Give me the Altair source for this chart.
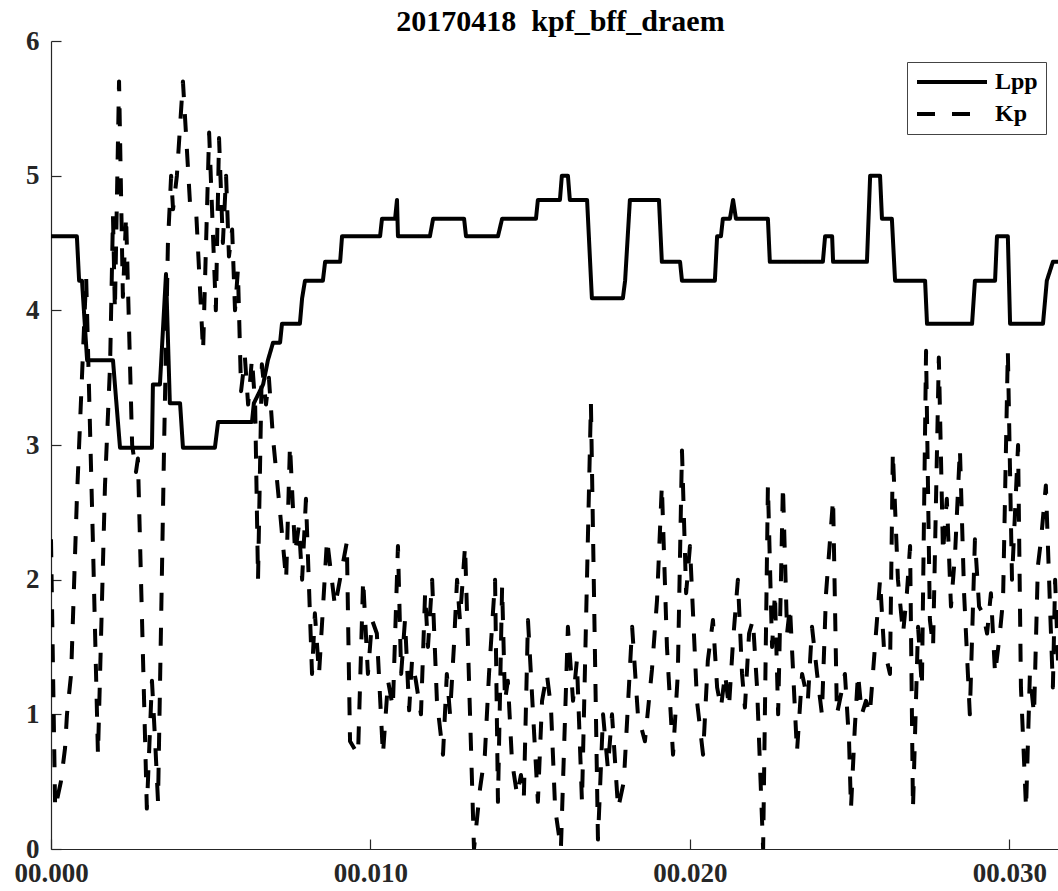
import altair as alt
import pandas as pd

# Time axis in thousandths (tick labels print as 00.xxx)
lpp_t = [0.00, 0.81, 0.88, 0.97, 1.13, 1.94, 2.00, 2.16, 3.16, 3.19, 3.41, 3.60, 3.72,
         4.04, 4.13, 5.13, 5.23, 6.29, 6.35, 6.64, 6.79, 6.95, 7.17, 7.23, 7.79, 7.86,
         7.95, 8.51, 8.58, 9.05, 9.11, 10.30, 10.36, 10.77, 10.83, 10.86, 11.86, 11.96,
         12.93, 12.99, 13.99, 14.12, 15.18, 15.24, 15.93, 15.99, 16.18, 16.24, 16.78,
         16.93, 17.90, 17.97, 18.12, 19.03, 19.12, 19.69, 19.75, 20.78, 20.85, 20.97,
         21.03, 21.25, 21.35, 21.44, 22.44, 22.50, 24.16, 24.23, 24.45, 24.48, 25.54,
         25.64, 25.95, 26.01, 26.32, 26.42, 27.36, 27.42, 28.83, 28.92, 29.55, 29.61,
         29.95, 30.02, 31.05, 31.17, 31.36, 31.58]
lpp_v = [4.55, 4.55, 4.22, 4.22, 3.63, 3.63, 3.45, 2.98, 2.98, 3.45, 3.45, 4.27, 3.31,
         3.31, 2.98, 2.98, 3.17, 3.17, 3.31, 3.45, 3.63, 3.76, 3.76, 3.90, 3.90, 4.09,
         4.22, 4.22, 4.36, 4.36, 4.55, 4.55, 4.68, 4.68, 4.82, 4.55, 4.55, 4.68,
         4.68, 4.55, 4.55, 4.68, 4.68, 4.82, 4.82, 5.00, 5.00, 4.82, 4.82,
         4.09, 4.09, 4.22, 4.82, 4.82, 4.36, 4.36, 4.22, 4.22, 4.55, 4.55,
         4.68, 4.68, 4.82, 4.68, 4.68, 4.36, 4.36, 4.55, 4.55, 4.36, 4.36,
         5.00, 5.00, 4.68, 4.68, 4.22, 4.22, 3.90, 3.90, 4.22, 4.22, 4.55,
         4.55, 3.90, 3.90, 4.22, 4.36, 4.36]

kp_t = [0.00, 0.13, 0.31, 0.44, 0.50, 0.63, 0.81, 1.10, 1.31, 1.47, 1.69, 1.85, 1.94,
        2.00, 2.13, 2.25, 2.35, 2.54, 2.66, 2.72, 3.00, 3.16, 3.26, 3.35, 3.54, 3.66,
        3.76, 3.82, 3.94, 4.13, 4.35, 4.54, 4.76, 4.95, 5.16, 5.26, 5.38, 5.48, 5.57,
        5.67, 5.76, 5.85, 5.95, 6.07, 6.17, 6.29, 6.39, 6.48, 6.60, 6.73, 6.82, 6.95,
        7.17, 7.36, 7.48, 7.64, 7.76, 7.86, 7.98, 8.17, 8.26, 8.39, 8.64, 8.89, 9.26,
        9.36, 9.61, 9.77, 9.92, 10.05, 10.20, 10.39, 10.55, 10.70, 10.86, 10.96, 11.08,
        11.21, 11.30, 11.42, 11.58, 11.71, 11.80, 11.93, 12.08, 12.27, 12.39, 12.49,
        12.61, 12.71, 12.80, 12.96, 13.24, 13.43, 13.58, 13.71, 13.90, 13.99, 14.12,
        14.21, 14.30, 14.43, 14.59, 14.71, 14.80, 14.93, 15.09, 15.24, 15.37, 15.52,
        15.65, 15.78, 15.96, 16.18, 16.34, 16.46, 16.62, 16.90, 17.12, 17.28, 17.43,
        17.56, 17.75, 17.93, 18.19, 18.37, 18.59, 18.81, 18.97, 19.12, 19.28, 19.47,
        19.62, 19.75, 19.88, 20.00, 20.22, 20.41, 20.56, 20.72, 20.85, 20.97, 21.10,
        21.22, 21.35, 21.50, 21.63, 21.72, 21.85, 21.97, 22.10, 22.29, 22.44, 22.57,
        22.66, 22.76, 22.91, 23.04, 23.13, 23.35, 23.51, 23.69, 23.82, 23.98, 24.13,
        24.26, 24.48, 24.60, 24.73, 24.85, 24.98, 25.04, 25.16, 25.26, 25.38, 25.51,
        25.63, 25.79, 25.95, 26.07, 26.26, 26.35, 26.51, 26.67, 26.79, 26.89, 26.98,
        27.14, 27.26, 27.39, 27.51, 27.61, 27.79, 27.92, 28.04, 28.17, 28.30, 28.45,
        28.58, 28.76, 28.92, 29.05, 29.17, 29.30, 29.42, 29.55, 29.70, 29.80, 29.95,
        30.08, 30.27, 30.36, 30.52, 30.64, 30.77, 30.89, 30.99, 31.14, 31.27, 31.36,
        31.43, 31.52]
kp_v = [2.30, 0.30, 0.50, 0.75, 1.00, 1.30, 2.60, 4.25, 2.30, 0.70, 2.70, 3.60, 4.70,
        4.00, 5.70, 4.10, 4.70, 3.00, 2.80, 2.90, 0.30, 1.25, 0.80, 0.35, 3.00, 4.50,
        5.00, 4.75, 5.00, 5.70, 4.80, 4.75, 3.70, 5.32, 4.00, 5.28, 4.50, 5.00, 4.40,
        4.60, 4.00, 4.30, 3.40, 3.65, 3.30, 3.64, 3.30, 2.00, 3.60, 3.30, 3.50, 3.05,
        2.50, 2.00, 3.00, 2.20, 2.40, 2.00, 2.60, 1.30, 1.75, 1.30, 2.30, 1.80, 2.28,
        0.80, 0.70, 2.00, 1.30, 1.70, 1.60, 0.70, 1.25, 1.05, 2.25, 1.30, 1.70,
        1.03, 1.40, 1.25, 1.00, 1.90, 1.50, 2.00, 1.10, 0.70, 1.30, 1.00,
        1.50, 2.00, 1.70, 2.25, 0.00, 0.45, 0.70, 1.30, 2.00, 0.35, 1.95,
        1.10, 1.25, 0.65, 0.40, 0.55, 0.38, 1.70, 1.00, 0.35, 1.10, 1.30,
        1.05, 0.30, 0.00, 1.65, 1.10, 1.40, 0.35, 3.31, 0.07, 1.00, 0.60,
        1.00, 0.30, 0.50, 1.65, 1.00, 0.80, 1.33, 1.85, 2.70, 1.50, 0.70,
        1.30, 2.96, 1.90, 2.25, 1.10, 0.70, 1.40, 1.70, 1.20, 1.05, 1.30,
        1.05, 1.55, 2.00, 1.30, 1.05, 1.60, 1.70, 1.20, 0.00, 2.70, 1.50,
        1.90, 1.00, 2.70, 1.60, 1.80, 0.72, 1.30, 1.10, 1.65, 1.30, 1.00,
        1.90, 2.60, 1.00, 1.15, 1.30, 0.80, 0.30, 0.90, 1.30, 1.00, 1.10,
        1.00, 1.50, 2.00, 1.50, 1.30, 2.95, 2.00, 1.60, 1.90, 2.25, 0.30,
        1.65, 1.20, 3.70, 1.70, 1.50, 3.65, 2.20, 2.60, 1.80, 2.20, 2.97,
        1.90, 1.00, 2.30, 1.80, 1.75, 1.60, 1.90, 1.30, 1.60, 1.85, 3.70,
        2.00, 3.00, 1.20, 0.30, 1.30, 1.00, 2.10, 2.30, 2.70, 1.80, 1.20,
        2.00, 1.40]

series_names = ["Lpp", "Kp"]
title_text = "20170418 \u00a0kpf_bff_draem"
x_ticks = [0, 10, 20, 30]
y_ticks = [0, 1, 2, 3, 4, 5, 6]

rows = []
for name, ts, vs in (("Lpp", lpp_t, lpp_v), ("Kp", kp_t, kp_v)):
    for i, (t, v) in enumerate(zip(ts, vs)):
        rows.append({"t": t, "v": v, "series": name, "i": i})
df = pd.DataFrame(rows)

FONT = "Liberation Serif"
INK = "#262626"
W, H = 1007, 808
x_scale = alt.Scale(domain=[0, 31.52], nice=False, zero=False)
y_scale = alt.Scale(domain=[0, 6], nice=False)

label_style = dict(labelFont=FONT, labelFontSize=27, labelFontWeight="bold",
                   labelColor=INK, grid=False, title=None)

lines = alt.Chart(df).mark_line(strokeWidth=4, color="black", clip=True,
                                strokeJoin="round").encode(
    x=alt.X("t:Q", scale=x_scale,
            axis=alt.Axis(values=x_ticks, labelExpr="'00.' + format(datum.value, '03d')",
                          ticks=False, domainColor=INK, domainWidth=1.2,
                          labelPadding=11, labelFlush=False, labelOverlap=False,
                          **label_style)),
    y=alt.Y("v:Q", scale=y_scale,
            axis=alt.Axis(values=y_ticks, ticks=False, domainColor=INK, domainWidth=1.2,
                          labelPadding=12, labelFlush=False, **label_style)),
    strokeDash=alt.StrokeDash(
        "series:N",
        scale=alt.Scale(domain=series_names, range=[[1, 0], [18, 17]]),
        legend=alt.Legend(title=None, orient="none", legendX=856, legendY=21,
                          symbolType="M-3.5,0H3.5", symbolSize=400,
                          symbolStrokeWidth=4, symbolStrokeColor="black",
                          symbolOffset=25, labelOffset=31,
                          labelFont=FONT, labelFontSize=24, labelFontWeight="bold",
                          labelColor="black", padding=8, rowPadding=8,
                          strokeColor="#444", fillColor="white"),
    ),
    order="i:Q",
)

# inward tick marks: mirrored axes pulled back onto the plot edges
ticks = alt.Chart(df).mark_line(opacity=0).encode(
    x=alt.X("t:Q", scale=x_scale,
            axis=alt.Axis(orient="top", offset=-H, values=x_ticks, labels=False,
                          domain=False, tickSize=10, tickColor=INK, tickWidth=1.2,
                          grid=False, title=None)),
    y=alt.Y("v:Q", scale=y_scale,
            axis=alt.Axis(orient="right", offset=-W, values=y_ticks, labels=False,
                          domain=False, tickSize=10, tickColor=INK, tickWidth=1.2,
                          grid=False, title=None)),
    detail="series:N",
)

chart = alt.layer(lines, ticks).resolve_axis(
    x="independent", y="independent"
).properties(
    width=W, height=H,
    title=alt.TitleParams(title_text, font=FONT, fontSize=30, fontWeight="bold",
                          color="black", offset=8, dx=6, dy=18),
    autosize=alt.AutoSizeParams(type="none"),
    padding={"left": 51, "top": 41, "right": 0, "bottom": 42},
    background="white",
).configure_view(strokeWidth=0)

chart.save("out.html", embed_options={"renderer": "svg", "actions": False})
